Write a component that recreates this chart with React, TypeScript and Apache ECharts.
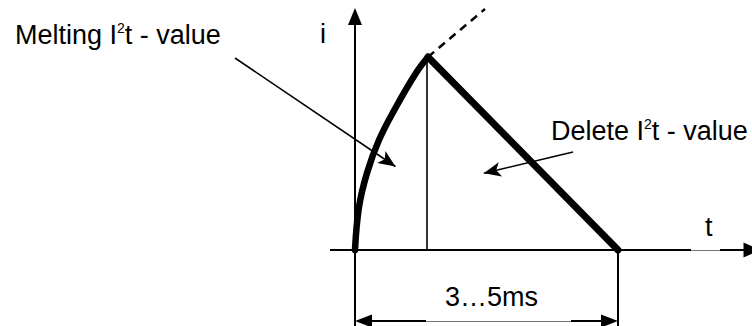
import React, { useEffect, useRef } from 'react';
import * as echarts from 'echarts';

// Schematic units: t (horizontal) and i (vertical), origin at the axes' crossing.
const meltingCurve: number[][] = [[0, 0], [4, 43], [12, 77], [24, 110], [41, 143], [61, 177], [73, 193]];
const deleteSlope: number[][] = [[73, 193], [263, 0]];
const continuation: number[][] = [[73, 193], [130, 241]];
const peakDrop: number[][] = [[72, 193], [72, 0]];

// axes (from, to)
const tAxisParts: number[][][] = [[[-25, 0], [336, 0]], [[336, 0], [365, 0]], [[365, 0], [397, 0]]];
const iAxis: number[][] = [[0, -76], [0, 233.5]];
const endMarker: number[][] = [[263, 0], [263, -76]];
// dimension line "3…5ms"
const spanParts: number[][][] = [[[8.5, -71], [71, -71]], [[71, -71], [216, -71]], [[216, -71], [254.5, -71]]];
// annotation arrows
const meltingArrow: number[][] = [[-120, 192], [40.4, 83.5]];
const deleteArrow: number[][] = [[218, 98], [128.8, 76.8]];

const labels = {
  melting: 'Melting I{sup|2}t - value',
  del: 'Delete I{sup|2}t - value',
  i: 'i',
  t: 't',
  span: '3…5ms',
};

const FONT = 'Liberation Sans';

export default function App() {
  const ref = useRef<HTMLDivElement>(null);
  useEffect(() => {
    if (!ref.current) return;
    const chart = echarts.init(ref.current, undefined, { renderer: 'svg' });
    const black = { color: '#000', type: 'solid' as const };
    const seg = (a: number[], b: number[], width: number, color = '#000', symA = 'none', symB = 'none', sizeA: any = 0, sizeB: any = 0) => [
      { coord: a, symbol: symA, symbolSize: sizeA, lineStyle: { color, width, type: 'solid' } },
      { coord: b, symbol: symB, symbolSize: sizeB, lineStyle: { color, width, type: 'solid' } },
    ];
    const mlData: any[] = [
      seg(tAxisParts[0][0], tAxisParts[0][1], 2),
      seg(tAxisParts[1][0], tAxisParts[1][1], 1, '#777'),
      seg(tAxisParts[2][0], tAxisParts[2][1], 2, '#000', 'none', 'triangle', 0, [15, 17]),
      seg(iAxis[0], iAxis[1], 2, '#000', 'none', 'triangle', 0, [14, 17]),
      seg(endMarker[0], endMarker[1], 2),
      seg(spanParts[0][0], spanParts[0][1], 2, '#000', 'triangle', 'none', [13, 17], 0),
      seg(spanParts[1][0], spanParts[1][1], 1, '#777'),
      seg(spanParts[2][0], spanParts[2][1], 2, '#000', 'none', 'triangle', 0, [13, 17]),
      seg(meltingArrow[0], meltingArrow[1], 1.6, '#000', 'none', 'arrow', 0, [11, 17]),
      seg(deleteArrow[0], deleteArrow[1], 1.6, '#000', 'none', 'arrow', 0, [11, 17]),
    ];
    const rich = { sup: { fontSize: 14, fontFamily: FONT, fill: '#000', verticalAlign: 'top', lineHeight: 14 } };
    chart.setOption({
      animation: false,
      backgroundColor: '#fff',
      grid: { left: 0, right: 0, top: 0, bottom: 0, containLabel: false },
      xAxis: { type: 'value', min: -355, max: 397, show: false },
      yAxis: { type: 'value', min: -76, max: 250, show: false },
      series: [
        {
          type: 'line', data: meltingCurve, smooth: 0.4, symbol: 'none', silent: true,
          lineStyle: { color: '#000', width: 6.5, cap: 'round' }, z: 5,
        },
        {
          type: 'line', data: deleteSlope, symbol: 'none', silent: true,
          lineStyle: { color: '#000', width: 7, cap: 'round' }, z: 5,
        },
        {
          type: 'line', data: continuation, symbol: 'none', silent: true,
          lineStyle: { color: '#000', width: 2.5, type: [8, 6] }, z: 4,
        },
        {
          type: 'line', data: peakDrop, symbol: 'none', silent: true,
          lineStyle: { color: '#000', width: 1.6 }, z: 4,
        },
        {
          type: 'line', data: [], symbol: 'none', silent: true, z: 3,
          markLine: {
            silent: true, animation: false, symbol: 'none', precision: 4,
            label: { show: false }, emphasis: { disabled: true },
            lineStyle: black,
            data: mlData,
          },
        },
      ],
      graphic: [
        { type: 'text', x: 15, y: 21, style: { text: labels.melting, fontSize: 27, fontFamily: FONT, fill: '#000', verticalAlign: 'top', rich } },
        { type: 'text', x: 320, y: 20, style: { text: labels.i, fontSize: 27, fontFamily: FONT, fill: '#000', verticalAlign: 'top' } },
        { type: 'text', x: 551, y: 117, style: { text: labels.del, fontSize: 27, fontFamily: FONT, fill: '#000', verticalAlign: 'top', rich } },
        { type: 'text', x: 705, y: 213, style: { text: labels.t, fontSize: 27, fontFamily: FONT, fill: '#000', verticalAlign: 'top' } },
        { type: 'text', x: 445, y: 283, style: { text: labels.span, fontSize: 27, fontFamily: FONT, fill: '#000', verticalAlign: 'top' } },
      ],
    });
    return () => chart.dispose();
  }, []);
  return <div ref={ref} style={{ position: 'fixed', left: 0, top: 0, width: 752, height: 326, background: '#fff' }} />;
}
